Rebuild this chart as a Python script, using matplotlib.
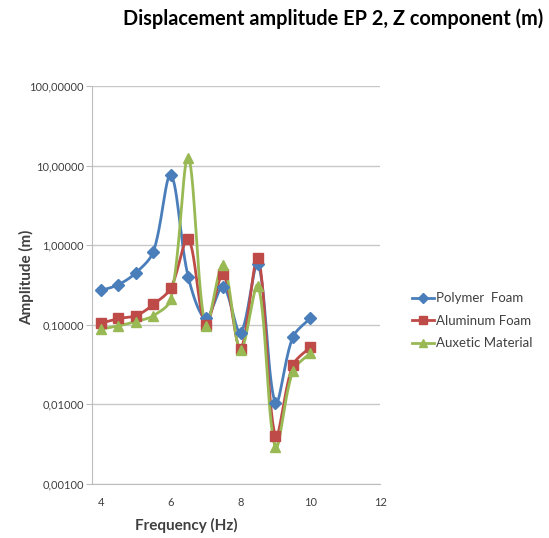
import numpy as np
import matplotlib.pyplot as plt
from matplotlib.ticker import FixedLocator, FuncFormatter

# frequency (Hz) and amplitude (m)
freq = [4, 4.5, 5, 5.5, 6, 6.5, 7, 7.5, 8, 8.5, 9, 9.5, 10]
polymer = [0.27, 0.32, 0.45, 0.83, 7.6, 0.40, 0.12, 0.30, 0.080, 0.58, 0.0105, 0.070, 0.12]
aluminum = [0.105, 0.12, 0.13, 0.18, 0.29, 1.2, 0.10, 0.43, 0.050, 0.70, 0.0040, 0.031, 0.052]
auxetic = [0.088, 0.097, 0.11, 0.13, 0.21, 12.5, 0.097, 0.57, 0.048, 0.31, 0.0029, 0.026, 0.044]

series = [
    ("Polymer  Foam", polymer, "#4a7ebb", "D"),
    ("Aluminum Foam", aluminum, "#be4b48", "s"),
    ("Auxetic Material", auxetic, "#98b954", "^"),
]

yticks = [0.001, 0.01, 0.1, 1, 10, 100]
FONT = "Lato"


def smooth(x, y, n=30):
    # Excel-like smoothed line: bezier segments, tangents scaled by segment length
    # worked out in screen-like units (35 px per Hz, 80 px per decade)
    px = np.asarray(x, float) * 35.0
    py = np.log10(np.asarray(y, float)) * 80.0
    pts = np.column_stack([px, py])
    m = len(pts)
    out = []
    for i in range(m - 1):
        p0 = pts[max(i - 1, 0)]
        p1 = pts[i]
        p2 = pts[i + 1]
        p3 = pts[min(i + 2, m - 1)]
        d01 = np.hypot(*(p1 - p0))
        d12 = np.hypot(*(p2 - p1))
        d23 = np.hypot(*(p3 - p2))
        f1 = d12 / (d01 + d12) if d01 > 0 else 0.5
        f2 = d12 / (d12 + d23) if d23 > 0 else 0.5
        c1 = p1 + (p2 - p0) * f1 / 3
        c2 = p2 - (p3 - p1) * f2 / 3
        t = np.linspace(0, 1, n)[:, None]
        seg = ((1 - t) ** 3) * p1 + 3 * ((1 - t) ** 2) * t * c1 + 3 * (1 - t) * t ** 2 * c2 + t ** 3 * p2
        out.append(seg if i == 0 else seg[1:])
    out = np.vstack(out)
    return out[:, 0] / 35.0, 10 ** (out[:, 1] / 80.0)


def fmt(v, pos):
    return ("%.5f" % v).replace(".", ",")


fig = plt.figure(figsize=(5.49, 5.38), dpi=100)
ax = fig.add_axes([92 / 549, 1 - 484 / 538, 288 / 549, 398 / 538])

for name, vals, col, mk in series:
    sx, sy = smooth(freq, vals)
    ax.plot(sx, sy, color=col, lw=2.0, zorder=3)
    ax.plot(freq, vals, linestyle="none", marker=mk, color=col,
            markersize=7 if mk != "D" else 6, zorder=4)
    ax.plot([], [], color=col, lw=2.0, marker=mk,
            markersize=6 if mk != "D" else 5, label=name)

ax.set_yscale("log")
ax.set_ylim(0.001, 100)
ax.set_xlim(3.74, 12)
ax.yaxis.set_major_locator(FixedLocator(yticks))
ax.yaxis.set_minor_locator(FixedLocator([]))
ax.yaxis.set_major_formatter(FuncFormatter(fmt))
ax.set_xticks([4, 6, 8, 10, 12])

ax.grid(axis="y", color="#c8c8c8", lw=1)
ax.set_axisbelow(True)
for s in ["top", "right"]:
    ax.spines[s].set_visible(False)
for s in ["left", "bottom"]:
    ax.spines[s].set_color("#bdbdbd")
ax.tick_params(axis="y", length=4, color="#bdbdbd", labelsize=8, labelcolor="#404040", pad=2)
ax.tick_params(axis="x", length=0, labelsize=8, labelcolor="#404040", pad=9)
for lab in ax.get_xticklabels() + ax.get_yticklabels():
    lab.set_family(FONT)

ax.set_xlabel("Frequency (Hz)", fontsize=11, fontweight="bold", color="#404040", family=FONT)
ax.set_ylabel("Amplitude (m)", fontsize=11, fontweight="bold", color="#404040", family=FONT)
ax.xaxis.set_label_coords(94 / 288, -34 / 398)
ax.yaxis.set_label_coords(-58 / 288, 207 / 398)

fig.text(333 / 549, 1 - 19 / 538, "Displacement amplitude EP 2, Z component (m)",
         ha="center", va="center", fontsize=14.3, fontweight="bold", family=FONT)

leg = ax.legend(loc="center left", bbox_to_anchor=(1.07, 0.41), frameon=False,
                prop={"family": FONT, "size": 9.5}, handlelength=1.7,
                handletextpad=0.1, labelspacing=0.8)
for t in leg.get_texts():
    t.set_color("#404040")

fig.savefig("out.png", dpi=100)
